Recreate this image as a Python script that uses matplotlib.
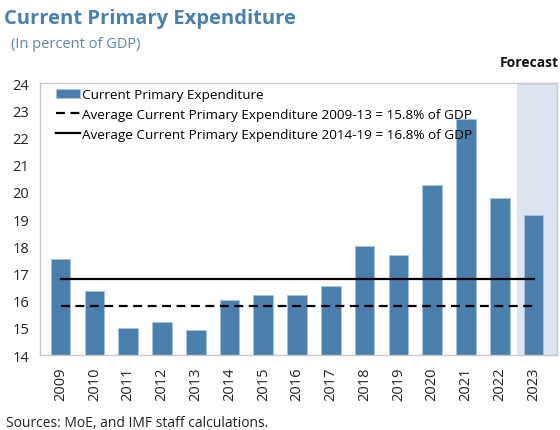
import matplotlib.pyplot as plt
import numpy as np

plt.rcParams['font.family'] = ['Open Sans', 'DejaVu Sans']

years = ['2009', '2010', '2011', '2012', '2013', '2014', '2015', '2016',
         '2017', '2018', '2019', '2020', '2021', '2022', '2023']
expenditure = [17.53, 16.34, 15.0, 15.2, 14.93, 16.04, 16.19, 16.22,
               16.52, 18.02, 17.68, 20.26, 22.69, 19.77, 19.16]
avg_2009_13 = 15.8
avg_2014_19 = 16.8
forecast_years = ['2023']

BAR_COLOR = '#4A7FAE'
TITLE_COLOR = '#4A7FAE'
SHADE = '#DCE4F0'

fig = plt.figure(figsize=(5.6, 4.31), dpi=100)
ax = fig.add_axes([0.072, 0.174, 0.923, 0.631])

x = np.arange(len(years))
for fy in forecast_years:
    i = years.index(fy)
    ax.axvspan(i - 0.5, i + 0.7, color=SHADE, zorder=0, lw=0)

bars = ax.bar(x, expenditure, width=0.58, color=BAR_COLOR, edgecolor='#A9C3DB',
              linewidth=0.6, label='Current Primary Expenditure', zorder=2)
l1, = ax.plot([x[0], x[-1]], [avg_2009_13] * 2, color='black', lw=1.6, ls=(0, (4, 2.5)),
              label='Average Current Primary Expenditure 2009-13 = 15.8% of GDP', zorder=3)
l2, = ax.plot([x[0], x[-1]], [avg_2014_19] * 2, color='black', lw=1.6,
              label='Average Current Primary Expenditure 2014-19 = 16.8% of GDP', zorder=3)

ax.set_xlim(-0.6, len(years) - 0.3)
ax.set_ylim(14, 24)
ax.set_yticks(range(14, 25))
ax.set_xticks(x)
ax.set_xticklabels(years, rotation=90)
ax.tick_params(axis='both', length=0, labelsize=10.5, colors='#222222')
ax.tick_params(axis='x', pad=8)
ax.tick_params(axis='y', pad=8)
for s in ax.spines.values():
    s.set_color('#C8C8C8')
    s.set_linewidth(1.0)

leg = ax.legend(handles=[bars, l1, l2], loc='upper left', bbox_to_anchor=(0.015, 1.01),
                frameon=False, fontsize=9.7, handlelength=1.8, handletextpad=0.1,
                labelspacing=0.5, borderaxespad=0.2)

fig.text(0.008, 0.945, 'Current Primary Expenditure', fontsize=14.5,
         fontweight='bold', color=TITLE_COLOR)
fig.text(0.02, 0.888, '(In percent of GDP)', fontsize=10.5, color='#5B86B3')
fig.text(0.998, 0.845, 'Forecast', fontsize=10, fontweight='bold',
         ha='right', color='#111111')
fig.text(0.01, 0.01, 'Sources: MoE, and IMF staff calculations.', fontsize=10,
         color='#222222')

fig.savefig('out.png', dpi=100)
